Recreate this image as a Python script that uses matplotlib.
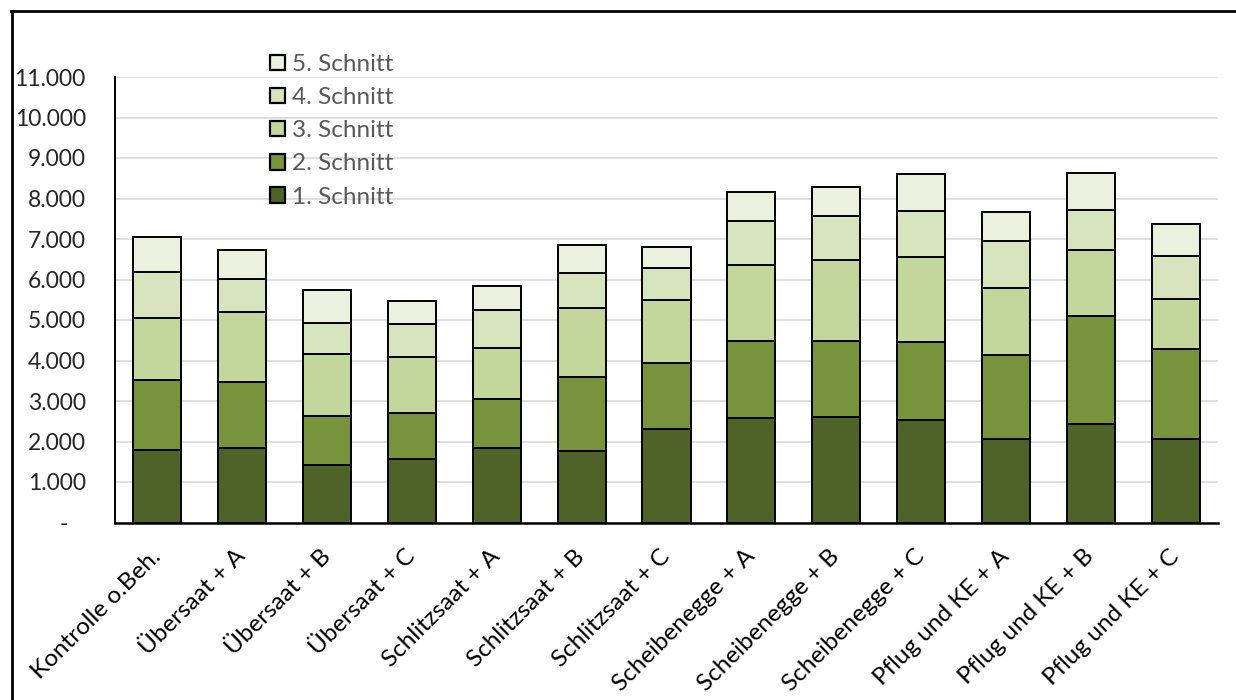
import matplotlib
matplotlib.use("Agg")
import matplotlib.pyplot as plt
import numpy as np
from matplotlib.lines import Line2D
from matplotlib.patches import Patch

plt.rcParams['font.family'] = ['Lato', 'DejaVu Sans']

# Treatments
categories = [
    "Kontrolle o.Beh.", "Übersaat + A", "Übersaat + B", "Übersaat + C",
    "Schlitzsaat + A", "Schlitzsaat + B", "Schlitzsaat + C",
    "Scheibenegge + A", "Scheibenegge + B", "Scheibenegge + C",
    "Pflug und KE + A", "Pflug und KE + B", "Pflug und KE + C",
]

# Yield per cut
schnitt_1 = [1790, 1831, 1428, 1560, 1831, 1757, 2309, 2588, 2613, 2539, 2054, 2432, 2054]
schnitt_2 = [1721, 1638, 1202, 1152, 1210, 1836, 1621, 1893, 1868, 1918, 2090, 2675, 2223]
schnitt_3 = [1546, 1737, 1539, 1366, 1259, 1703, 1556, 1877, 2008, 2099, 1646, 1629, 1249]
schnitt_4 = [1128, 815, 757, 815, 939, 873, 790, 1086, 1071, 1135, 1153, 980, 1054]
schnitt_5 = [872, 699, 807, 584, 601, 675, 519, 709, 732, 906, 732, 921, 798]

series_labels = ["1. Schnitt", "2. Schnitt", "3. Schnitt", "4. Schnitt", "5. Schnitt"]
series_colors = ["#4F6228", "#77933C", "#C3D69B", "#D7E4BD", "#EBF1DE"]

y_ticks = [0, 1000, 2000, 3000, 4000, 5000, 6000, 7000, 8000, 9000, 10000, 11000]
y_tick_labels = ["-   ", "1.000", "2.000", "3.000", "4.000", "5.000", "6.000",
                 "7.000", "8.000", "9.000", "10.000", "11.000"]

W, H = 1236, 700
fig = plt.figure(figsize=(W / 100, H / 100), dpi=100)
ax = fig.add_axes([115 / W, 1 - 522.5 / H, (1218 - 115) / W, (522.5 - 77) / H])

x = np.arange(len(categories))
bottom = np.zeros(len(categories))
handles = []
for vals, lab, col in zip([schnitt_1, schnitt_2, schnitt_3, schnitt_4, schnitt_5],
                          series_labels, series_colors):
    ax.bar(x, vals, width=0.566, bottom=bottom, color=col, edgecolor="black",
           linewidth=1.4, zorder=3)
    bottom += np.array(vals)
    handles.append(Patch(facecolor=col, edgecolor="black", linewidth=1.6, label=lab))

ax.set_xlim(-0.5, len(categories) - 0.5)
ax.set_ylim(0, 11000)
ax.set_yticks(y_ticks)
ax.set_yticklabels(y_tick_labels)
ax.yaxis.grid(True, color="#D9D9D9", linewidth=1.2, zorder=0)
ax.set_axisbelow(True)

ax.set_xticks(x)
ax.set_xticklabels(categories, rotation=45, ha="right", va="center",
                   rotation_mode="anchor", fontsize=17.5, color="black")
ax.tick_params(axis="x", length=0, pad=22)
ax.tick_params(axis="y", length=0, pad=21, labelsize=16.5, labelcolor="#262626")

for side in ("top", "right"):
    ax.spines[side].set_visible(False)
ax.spines["left"].set_linewidth(1.4)
ax.spines["left"].set_color("black")
ax.spines["bottom"].set_linewidth(1.8)
ax.spines["bottom"].set_color("black")

leg = fig.legend(handles[::-1], series_labels[::-1], loc="upper left",
                 bbox_to_anchor=(270 / W, 1 - 54 / H), bbox_transform=fig.transFigure,
                 frameon=False, fontsize=17.5, handlelength=0.6, handleheight=0.6,
                 handletextpad=0.3, labelspacing=0.5, borderpad=0, borderaxespad=0)
for t in leg.get_texts():
    t.set_color("#595959")

# Outer frame (left and top edges)
fig.add_artist(Line2D([11.5 / W, 11.5 / W], [0, 1 - 11 / H], transform=fig.transFigure,
                      color="black", linewidth=2.0))
fig.add_artist(Line2D([10.5 / W, 1], [1 - 11 / H, 1 - 11 / H], transform=fig.transFigure,
                      color="black", linewidth=2.0))

fig.savefig("out.png", dpi=100)
